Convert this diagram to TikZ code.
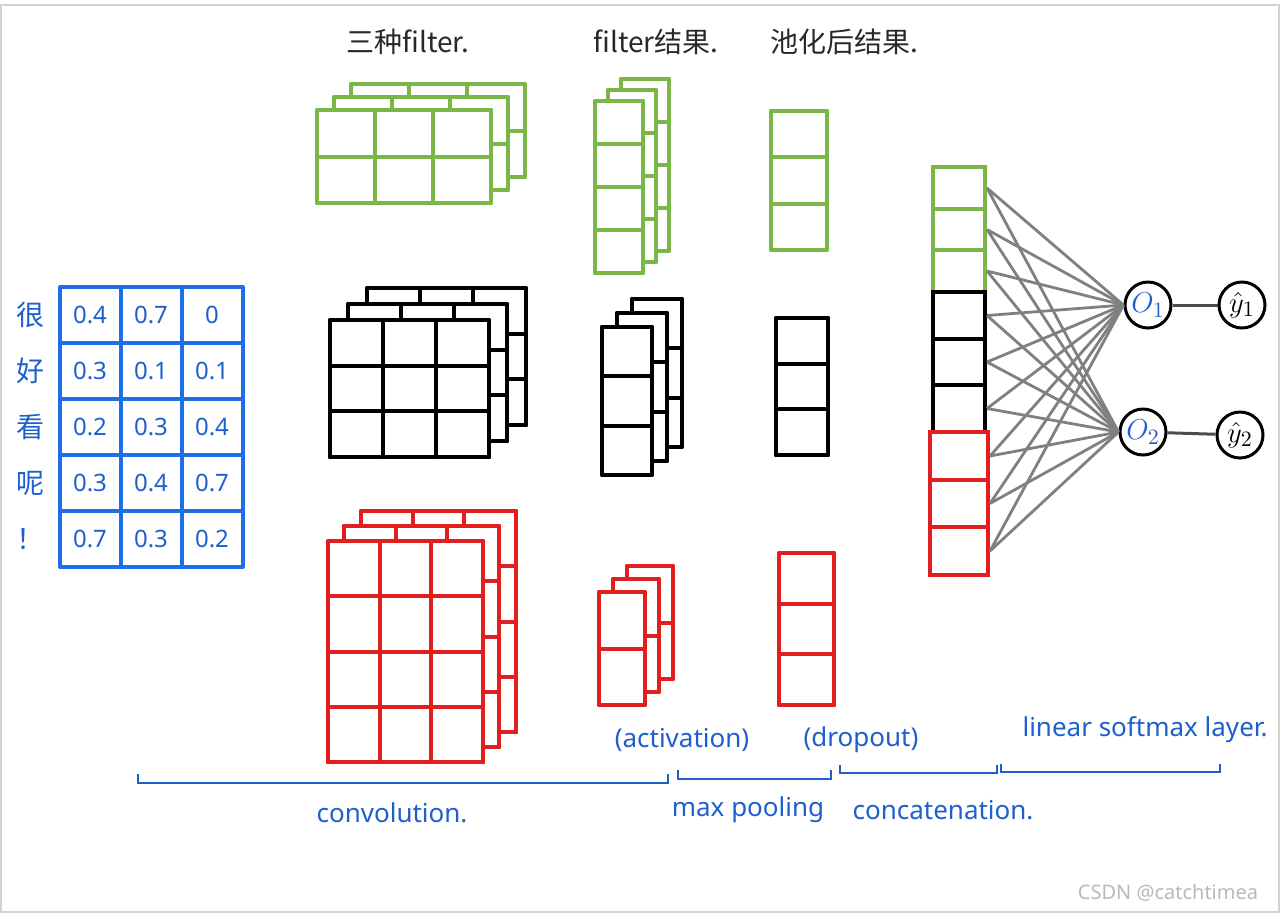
\documentclass[tikz,border=0pt]{standalone}
\usepackage{fontspec}
\setmainfont{Noto Sans}
\newfontfamily\cjk{Noto Sans CJK SC}
\usepackage{amsmath}
\usepackage{tikz}
\usetikzlibrary{positioning, arrows.meta, shapes.geometric}

\definecolor{leaf}{RGB}{122,182,72}
\definecolor{brick}{RGB}{226,30,30}
\definecolor{hand}{RGB}{30,95,205}
\definecolor{mblue}{RGB}{30,110,230}
\definecolor{ink}{RGB}{40,40,40}
\definecolor{wire}{RGB}{128,128,128}

% one feature map: style, x, y, cols, rows, cell width, cell height
\newcommand{\fmap}[7]{%
  \fill[white] (#2,#3) rectangle ++({#4*#6},{#5*#7});
  \foreach \i in {0,...,#4} \draw[#1] ({#2+\i*#6},#3) -- ++(0,{#5*#7});
  \foreach \j in {0,...,#5} \draw[#1] (#2,{#3+\j*#7}) -- ++({#4*#6},0);
}

\begin{document}
\begin{tikzpicture}[
  x=0.5pt, y=-0.5pt,
  gridg/.style={draw=leaf, line width=2pt, line cap=round},
  gridk/.style={draw=black, line width=2pt, line cap=round},
  gridr/.style={draw=brick, line width=2pt, line cap=round},
  gridb/.style={draw=mblue, line width=1.6pt, line cap=round},
  cell/.style={rectangle, draw, fill=white, line width=2pt,
               minimum width=26pt, inner sep=0pt},
  unit/.style={circle, draw, line width=1.5pt, fill=white,
               minimum size=23pt, inner sep=0pt,
               font=\fontsize{15}{17}\selectfont},
  link/.style={draw=wire, line width=1.4pt},
  brk/.style={draw=hand, line width=1.2pt},
  lab/.style={font=\cjk\fontsize{14}{16}\selectfont, text=ink},
  note/.style={font=\fontsize{13}{15}\selectfont, text=hand},
  num/.style={font=\fontsize{12}{14}\selectfont, text=hand},
  word/.style={font=\cjk\fontsize{14}{16}\selectfont, text=hand}
]
\useasboundingbox (0,0) rectangle (1280,918);
\draw[gray!35, line width=0.8pt] (1,5) rectangle (1279,912);

% top titles
\node[lab] (t1) at (408,42) {三种filter.};
\node[lab] (t2) at (656,42) {filter结果.};
\node[lab] (t3) at (844,42) {池化后结果.};

% sentence matrix
\fmap{gridb}{60}{287}{3}{5}{61}{56}
\foreach \a/\b/\c [count=\r] in {0.4/0.7/0, 0.3/0.1/0.1, 0.2/0.3/0.4,
                                 0.3/0.4/0.7, 0.7/0.3/0.2} {
  \node[num] (m\r-1) at (90, 287+56*\r-28) {\a};
  \node[num] (m\r-2) at (151, 287+56*\r-28) {\b};
  \node[num] (m\r-3) at (212, 287+56*\r-28) {\c};
}
\foreach \w [count=\r] in {很,好,看,呢,！}
  \node[word] (w\r) at (31, 287+56*\r-28) {\w};

% convolution filters
\fmap{gridg}{351}{84}{3}{2}{58}{46.5}
\fmap{gridg}{334}{97}{3}{2}{58}{46.5}
\fmap{gridg}{317}{110}{3}{2}{58}{46.5}

\fmap{gridk}{367}{288}{3}{3}{53}{45.7}
\fmap{gridk}{348}{304}{3}{3}{53}{45.7}
\fmap{gridk}{330}{320}{3}{3}{53}{45.7}

\fmap{gridr}{361}{511}{3}{4}{51.7}{55.3}
\fmap{gridr}{344}{526}{3}{4}{51.7}{55.3}
\fmap{gridr}{328}{541}{3}{4}{51.7}{55.3}

% filter results
\fmap{gridg}{621}{79}{1}{4}{48}{43}
\fmap{gridg}{608}{90}{1}{4}{48}{43}
\fmap{gridg}{595}{101}{1}{4}{48}{43}

\fmap{gridk}{632}{299}{1}{3}{50}{49.3}
\fmap{gridk}{617}{313}{1}{3}{50}{49.3}
\fmap{gridk}{602}{327}{1}{3}{50}{49.3}

\fmap{gridr}{627}{566}{1}{2}{46}{56.5}
\fmap{gridr}{613}{579}{1}{2}{46}{56.5}
\fmap{gridr}{599}{592}{1}{2}{46}{56.5}

% pooled results
\fmap{gridg}{771}{111}{1}{3}{56}{46.3}
\fmap{gridk}{776}{318}{1}{3}{52}{45.7}
\fmap{gridr}{779}{553}{1}{3}{55}{50.7}

% concatenated vector
\node[cell, draw=leaf, minimum height=20.8pt] (c1) at (959,188) {};
\node[cell, draw=leaf, minimum height=20.8pt] (c2) at (959,229.5) {};
\node[cell, draw=leaf, minimum height=20.8pt] (c3) at (959,271) {};
\node[cell, draw=black, minimum height=23.3pt] (c4) at (959,315.5) {};
\node[cell, draw=black, minimum height=23.3pt] (c5) at (959,362) {};
\node[cell, draw=black, minimum height=23.3pt] (c6) at (959,408.5) {};
\node[cell, draw=brick, minimum width=29pt, minimum height=23.8pt] (c7) at (959,456) {};
\node[cell, draw=brick, minimum width=29pt, minimum height=23.8pt] (c8) at (959,503.5) {};
\node[cell, draw=brick, minimum width=29pt, minimum height=23.8pt] (c9) at (959,551) {};

% softmax layer
\node[unit] (o1) at (1148,305) {\color{hand}$O_1$};
\node[unit] (o2) at (1143,432) {\color{hand}$O_2$};
\node[unit] (y1) at (1242,305) {$\hat{y}_1$};
\node[unit] (y2) at (1240,435) {$\hat{y}_2$};

\draw[link] (c1.east) -- (o1.west) (c1.east) -- (o2.west);
\draw[link] (c2.east) -- (o1.west) (c2.east) -- (o2.west);
\draw[link] (c3.east) -- (o1.west) (c3.east) -- (o2.west);
\draw[link] (c4.east) -- (o1.west) (c4.east) -- (o2.west);
\draw[link] (c5.east) -- (o1.west) (c5.east) -- (o2.west);
\draw[link] (c6.east) -- (o1.west) (c6.east) -- (o2.west);
\draw[link] (c7.east) -- (o1.west) (c7.east) -- (o2.west);
\draw[link] (c8.east) -- (o1.west) (c8.east) -- (o2.west);
\draw[link] (c9.east) -- (o1.west) (c9.east) -- (o2.west);
\draw[line width=1.5pt, draw=black!70] (o1) -- (y1);
\draw[line width=1.5pt, draw=black!70] (o2) -- (y2);

% stage brackets
\draw[brk] (138,774) -- (138,783) -- (668,783) -- (668,774);
\draw[brk] (678,770) -- (678,779) -- (831,779) -- (831,770);
\draw[brk] (840,765) -- (840,773) -- (997,773) -- (997,765);
\draw[brk] (1001,764) -- (1001,772) -- (1220,772) -- (1220,764);

\node[note] (act) at (682,740) {(activation)};
\node[note] (drop) at (861,740) {(dropout)};
\node[note] (lin) at (1145,730) {linear softmax layer.};
\node[note] (conv) at (392,813) {convolution.};
\node[note] (pool) at (748,810) {max pooling};
\node[note] (cat) at (943,810) {concatenation.};

\node[font=\fontsize{10}{12}\selectfont, text=gray!55] (wm) at (1168,893) {CSDN @catchtimea};
\end{tikzpicture}
\end{document}
